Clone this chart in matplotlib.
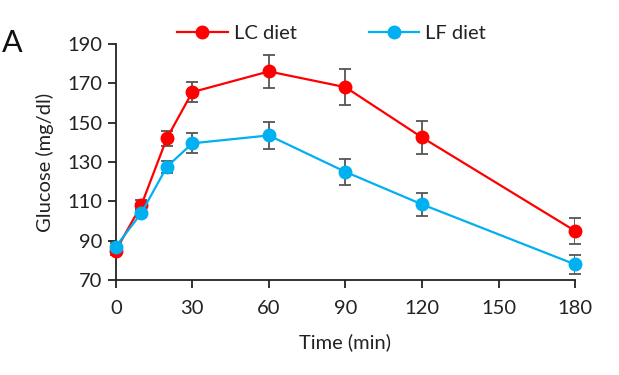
import matplotlib
matplotlib.use("Agg")
import matplotlib.pyplot as plt

time = [0, 10, 20, 30, 60, 90, 120, 180]
lc_mean = [85, 108, 142, 165.5, 176, 168, 142.5, 95]
lc_err = [2, 2.5, 4, 5, 8.5, 9, 8.5, 6.5]
lf_mean = [87, 104, 127.5, 139.5, 143.5, 125, 108.5, 78]
lf_err = [2, 2, 3, 5, 7, 6.5, 6, 5]
xticks = [0, 30, 60, 90, 120, 150, 180]
yticks = [70, 90, 110, 130, 150, 170, 190]

plt.rcParams['font.family'] = ['Lato', 'DejaVu Sans']

fig = plt.figure(figsize=(6.19, 3.75), dpi=100)
ax = fig.add_axes([0.187, 0.253, 0.742, 0.630])

ekw = dict(ecolor='#555555', elinewidth=1.3, capsize=4, capthick=1.3)
ax.errorbar(time, lc_mean, yerr=lc_err, color='#FF0000', marker='o', markersize=9,
            linewidth=1.6, label='LC diet', zorder=3, **ekw)
ax.errorbar(time, lf_mean, yerr=lf_err, color='#00B0F0', marker='o', markersize=9,
            linewidth=1.6, label='LF diet', zorder=3, **ekw)

ax.set_xlim(0, 180)
ax.set_ylim(70, 190)
ax.set_xticks(xticks)
ax.set_yticks(yticks)
for s in ['top', 'right']:
    ax.spines[s].set_visible(False)
for s in ['left', 'bottom']:
    ax.spines[s].set_linewidth(1.3)
    ax.spines[s].set_color('#222222')
ax.tick_params(axis='both', labelsize=14.5, width=1.3, length=6, color='#222222', labelcolor='#222222')
ax.tick_params(axis='x', pad=8)
ax.set_xlabel('Time (min)', fontsize=14.5, color='#222222', labelpad=12)
ax.set_ylabel('Glucose (mg/dl)', fontsize=14.5, color='#222222', labelpad=10)
for l in ax.get_lines():
    l.set_clip_on(False)

handles, labels = ax.get_legend_handles_labels()
handles = [h[0] for h in handles]
leg = ax.legend(handles, labels, loc='lower center', bbox_to_anchor=(0.47, 0.93), ncol=2,
                frameon=False, fontsize=14.5, columnspacing=3.6, handlelength=2.5,
                handletextpad=0.3)
for t in leg.get_texts():
    t.set_color('#222222')

fig.text(0.003, 0.862, 'A', fontsize=22, color='#111111')

fig.savefig('out.png', dpi=100)
